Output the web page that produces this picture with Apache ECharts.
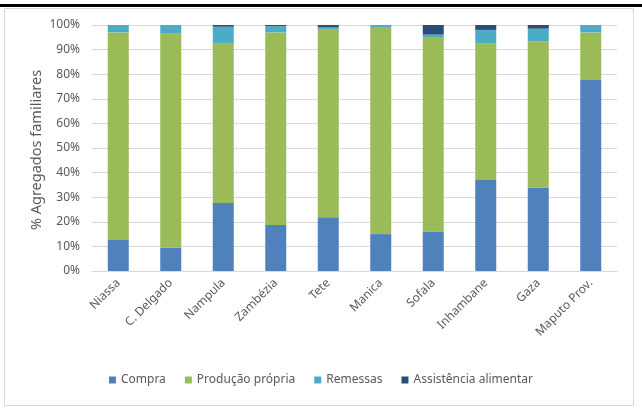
<!DOCTYPE html>
<html>
<head>
<meta charset="utf-8">
<script src="https://cdn.jsdelivr.net/npm/echarts@6/dist/echarts.min.js"></script>
<style>
  html, body { margin: 0; padding: 0; background: #fff; }
  #chart { width: 642px; height: 413px; }
</style>
</head>
<body>
<div id="chart"></div>
<script>
// Food source shares by province (% of households)
const provinces = ['Niassa', 'C. Delgado', 'Nampula', 'Zambézia', 'Tete', 'Manica', 'Sofala', 'Inhambane', 'Gaza', 'Maputo Prov.'];
const compra = [12.6, 9.5, 27.6, 18.7, 21.8, 15.0, 16.1, 37.0, 33.9, 77.6];
const producaoPropria = [84.4, 87.0, 65.1, 78.3, 76.6, 84.2, 78.7, 55.4, 59.5, 19.4];
const remessas = [3.0, 3.5, 6.6, 2.5, 0.6, 0.8, 1.3, 5.6, 5.1, 3.0];
const assistencia = [0, 0, 0.7, 0.5, 1.0, 0, 3.9, 2.0, 1.5, 0];
const yTicks = [0, 10, 20, 30, 40, 50, 60, 70, 80, 90, 100];

const seriesNames = ['Compra', 'Produção própria', 'Remessas', 'Assistência alimentar'];
const seriesData = [compra, producaoPropria, remessas, assistencia];
const colors = ['#4F81BD', '#9BBB59', '#4BACC6', '#2C4D75'];

const FONT = 'Noto Sans';
const chart = echarts.init(document.getElementById('chart'));
chart.setOption({
  animation: false,
  textStyle: { fontFamily: FONT },
  graphic: [
    { type: 'rect', shape: { x: 4.5, y: 8.5, width: 629, height: 397 },
      style: { fill: 'none', stroke: '#d9d9d9', lineWidth: 1 }, z: -1 },
    { type: 'rect', shape: { x: 0, y: 4, width: 642, height: 3 },
      style: { fill: '#000' } },
    // y-axis title, centred on the plot area
    { type: 'text', x: 37, y: 150, rotation: Math.PI / 2,
      style: { text: '% Agregados familiares', fill: '#595959', fontSize: 14.5,
               fontFamily: FONT, align: 'center', verticalAlign: 'middle' } }
  ],
  grid: { left: 92, right: 25, top: 25, bottom: 142 },
  legend: {
    bottom: 22,
    left: 'center',
    itemWidth: 7,
    itemHeight: 7,
    itemGap: 19,
    icon: 'rect',
    textStyle: { color: '#595959', fontSize: 12, fontFamily: FONT },
    data: seriesNames
  },
  xAxis: {
    type: 'category',
    data: provinces,
    axisTick: { show: false },
    axisLine: { lineStyle: { color: '#d9d9d9' } },
    axisLabel: { rotate: 45, color: '#595959', fontSize: 12, margin: 10, interval: 0 }
  },
  yAxis: {
    type: 'value',
    min: yTicks[0],
    max: yTicks[yTicks.length - 1],
    interval: 10,
    axisLabel: { color: '#595959', fontSize: 12, margin: 12, formatter: '{value}%' },
    splitLine: { lineStyle: { color: '#d9d9d9' } },
    axisLine: { show: false },
    axisTick: { show: false }
  },
  series: seriesNames.map((name, i) => ({
    name,
    type: 'bar',
    stack: 'total',
    barWidth: 21,
    itemStyle: { color: colors[i] },
    data: seriesData[i]
  }))
});
</script>
</body>
</html>
